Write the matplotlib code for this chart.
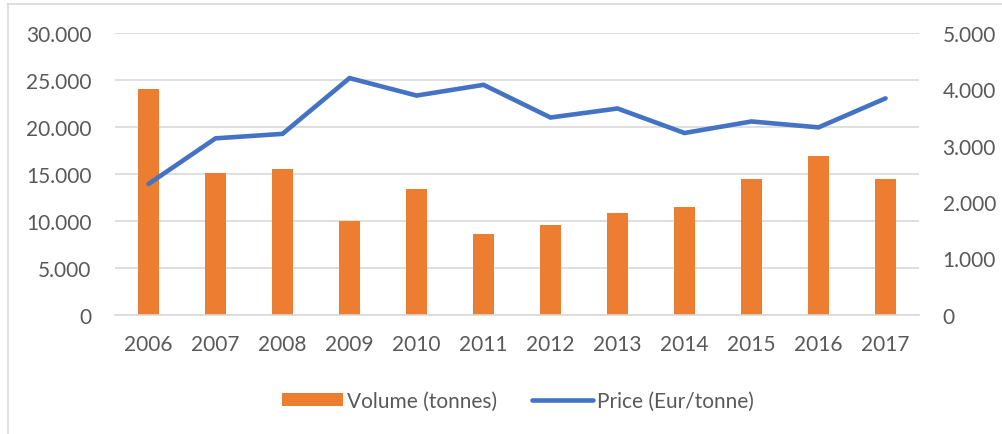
import matplotlib.pyplot as plt
from matplotlib.lines import Line2D
from matplotlib.ticker import FuncFormatter

years = ['2006', '2007', '2008', '2009', '2010', '2011',
         '2012', '2013', '2014', '2015', '2016', '2017']
volume = [24000, 15100, 15550, 10000, 13400, 8600,
          9600, 10850, 11500, 14500, 16850, 14400]
price = [2320, 3130, 3210, 4200, 3890, 4080,
         3500, 3660, 3225, 3430, 3325, 3840]

orange = '#ED7D31'
blue = '#4472C4'
txt = '#595959'
grid = '#D9D9D9'

plt.rcParams['font.family'] = ['Lato', 'DejaVu Sans']


def dots(v, pos):
    return f'{int(v):,}'.replace(',', '.')


fig = plt.figure(figsize=(10.02, 4.35), dpi=100)
ax = fig.add_axes([0.1148, 0.2743, 0.8024, 0.6475])
ax2 = ax.twinx()

x = list(range(len(years)))
bars = ax.bar(x, volume, width=0.31, color=orange, zorder=2, label='Volume (tonnes)')
line, = ax2.plot(x, price, color=blue, lw=3.3, solid_capstyle='round',
                 solid_joinstyle='miter', label='Price (Eur/tonne)')

ax.set_xlim(-0.5, len(years) - 0.5)
ax.set_ylim(0, 30000)
ax2.set_ylim(0, 5000)
ax.set_yticks(range(0, 30001, 5000))
ax2.set_yticks(range(0, 5001, 1000))
ax.yaxis.set_major_formatter(FuncFormatter(dots))
ax2.yaxis.set_major_formatter(FuncFormatter(dots))
ax.set_xticks(x)
ax.set_xticklabels(years)

ax.grid(axis='y', color=grid, lw=1.2, zorder=0)
ax.set_axisbelow(True)
for a in (ax, ax2):
    for s in a.spines.values():
        s.set_visible(False)
    a.tick_params(length=0, labelsize=15, colors=txt)
ax.tick_params(axis='y', pad=17)
ax2.tick_params(axis='y', pad=17)
ax.tick_params(axis='x', pad=14)
ax.spines['bottom'].set_visible(True)
ax.spines['bottom'].set_color(grid)
ax.spines['bottom'].set_linewidth(1.2)

fig.legend([bars, line], ['Volume (tonnes)', 'Price (Eur/tonne)'],
           loc='center', bbox_to_anchor=(0.517, 0.076), ncol=2, frameon=False,
           fontsize=15, labelcolor=txt, handlelength=2.9, handleheight=0.55,
           handletextpad=0.2, columnspacing=1.7)

# chart border (only left and top edge visible)
fig.add_artist(Line2D([8 / 1002, 8 / 1002], [0, 1 - 5 / 435], color='#D9D9D9', lw=1.2))
fig.add_artist(Line2D([8 / 1002, 1], [1 - 5 / 435, 1 - 5 / 435], color='#D9D9D9', lw=1.2))

fig.savefig('out.png', dpi=100)
